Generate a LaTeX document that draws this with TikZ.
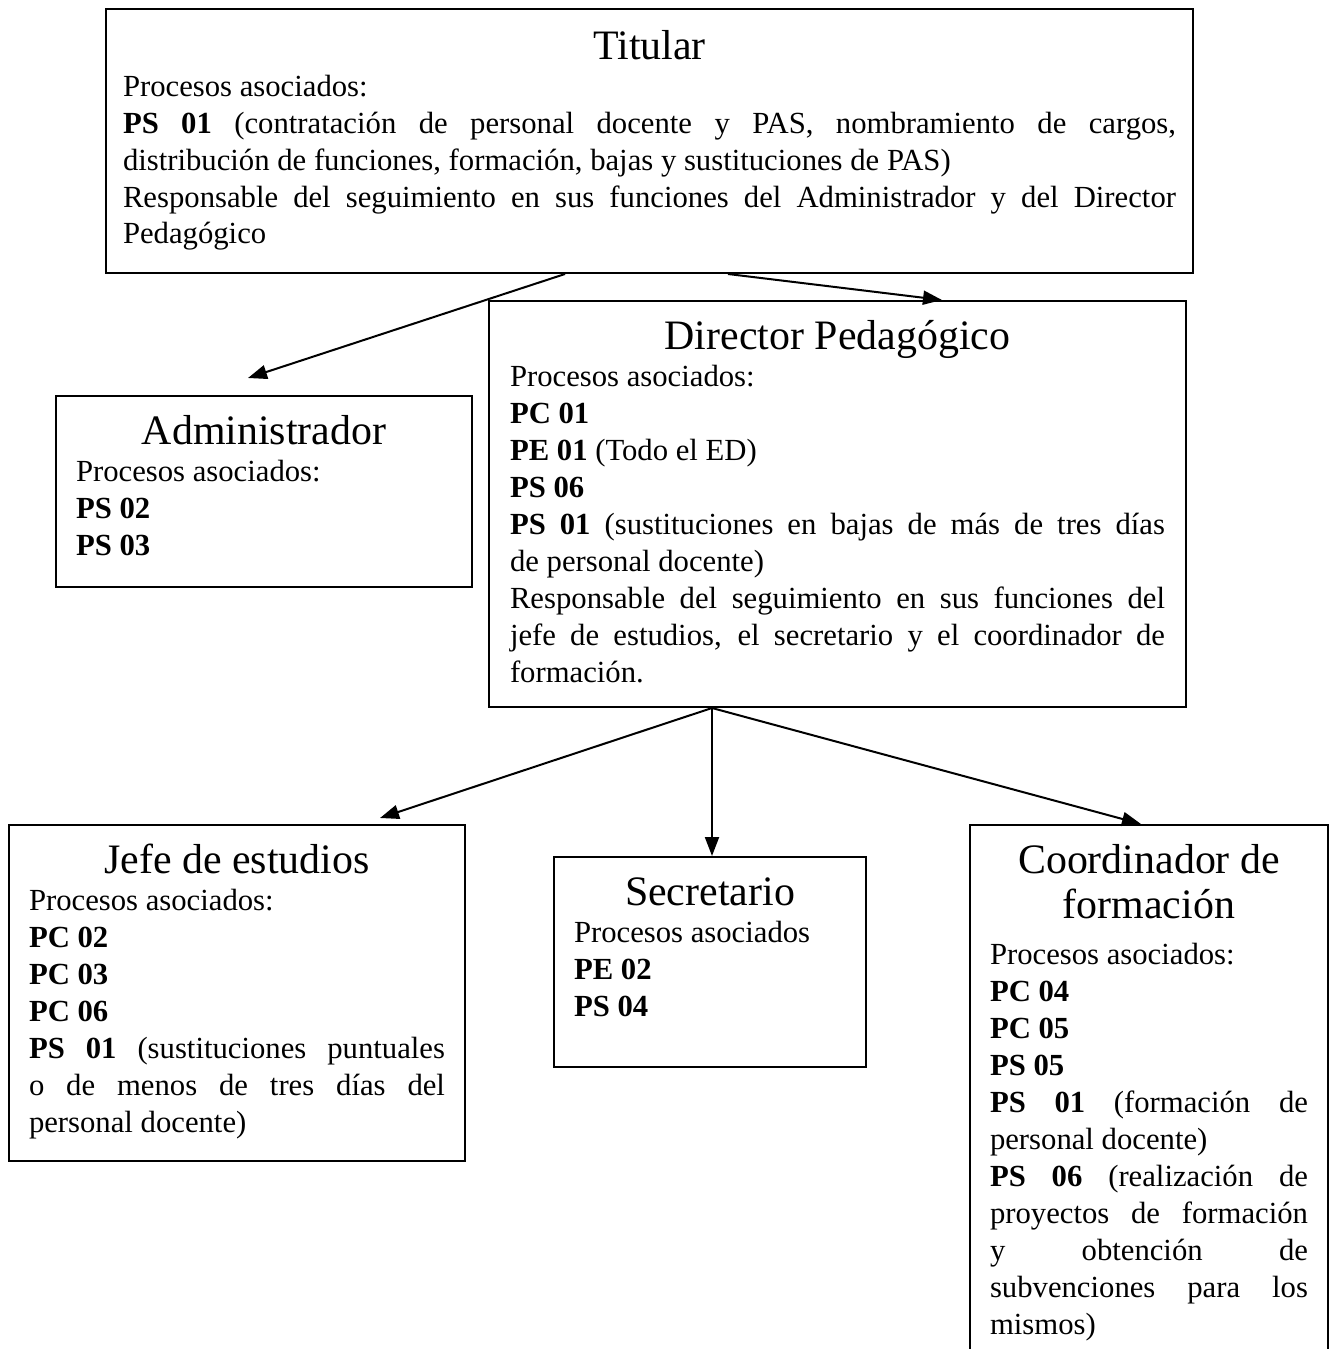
\documentclass[tikz,border=0pt]{standalone}
\usepackage{fontspec}
\setmainfont{Liberation Serif}
\usetikzlibrary{arrows.meta,calc}
\newcommand\bodyf{\fontsize{15.35pt}{18.5pt}\selectfont}
\newcommand\titf{\fontsize{20.95pt}{22.5pt}\selectfont}
\newcommand\jl[1]{\makebox[\linewidth][s]{#1}}
\newcommand\orgtext[3]{\parbox[t]{#1}{\titf\centering #2\par\bodyf\raggedright #3\par}}
\begin{document}
\begin{tikzpicture}[x=0.5pt,y=-0.5pt,
  orgbox/.style={draw, line width=1pt, anchor=north west, inner ysep=0pt, inner xsep=10pt, text height=24pt},
  arr/.style={line width=1pt, -{Triangle[length=9.5pt,width=7pt]}}]
\useasboundingbox (0,0) rectangle (1331,1349);
\clip (0,0) rectangle (1331,1349);

\node[orgbox, inner xsep=8.5pt, text height=25pt, text depth=107pt] (tit) at (105,8)
 {\orgtext{526.5pt}{Titular}{Procesos asociados:\\
  \jl{\textbf{PS 01} (contratación de personal docente y PAS, nombramiento de cargos,}\\
  distribución de funciones, formación, bajas y sustituciones de PAS)\\
  \jl{Responsable del seguimiento en sus funciones del Administrador y del Director}\\
  Pedagógico}};

\node[orgbox, inner xsep=10.5pt, text depth=179pt] (dir) at (488,300)
 {\orgtext{327.5pt}{Director Pedagógico}{Procesos asociados:\\
  \textbf{PC 01}\\
  \textbf{PE 01} (Todo el ED)\\
  \textbf{PS 06}\\
  \jl{\textbf{PS 01} (sustituciones en bajas de más de tres días}\\
  de personal docente)\\
  \jl{Responsable del seguimiento en sus funciones del}\\
  \jl{jefe de estudios, el secretario y el coordinador de}\\
  formación.}};

\node[orgbox, text depth=71.5pt] (adm) at (55,395)
 {\orgtext{188pt}{Administrador}{Procesos asociados:\\
  \textbf{PS 02}\\
  \textbf{PS 03}}};

\node[orgbox, text depth=144pt] (jef) at (8,824)
 {\orgtext{208pt}{Jefe de estudios}{Procesos asociados:\\
  \textbf{PC 02}\\
  \textbf{PC 03}\\
  \textbf{PC 06}\\
  \jl{\textbf{PS 01} (sustituciones puntuales}\\
  \jl{o de menos de tres días del}\\
  personal docente)}};

\node[orgbox, text depth=81pt] (sec) at (553,856)
 {\orgtext{136pt}{Secretario}{Procesos asociados\\
  \textbf{PE 02}\\
  \textbf{PS 04}}};

\node[orgbox, text depth=264pt] (coo) at (969,824)
 {\orgtext{159pt}{Coordinador de\\formación}{\vspace{4.5pt}Procesos asociados:\\
  \textbf{PC 04}\\
  \textbf{PC 05}\\
  \textbf{PS 05}\\
  \jl{\textbf{PS 01} (formación de}\\
  personal docente)\\
  \jl{\textbf{PS 06} (realización de}\\
  \jl{proyectos de formación}\\
  \jl{y obtención de}\\
  \jl{subvenciones para los}\\
  mismos)}};

\coordinate (t1) at ($(tit.south west)+(460,0)$);
\coordinate (t2) at ($(tit.south west)+(623,0)$);
\coordinate (admtip) at ($(adm.north west)+(193,-17)$);
\coordinate (dirtip) at ($(dir.north west)+(454,0)$);
\coordinate (d0) at ($(dir.south west)+(224,0)$);
\coordinate (jeftip) at ($(jef.north west)+(372,-6)$);
\coordinate (sectip) at ($(sec.north west)+(159,0)$);
\coordinate (cootip) at ($(coo.north west)+(172,0)$);

\draw[arr] (t1) -- (admtip);
\draw[arr] (t2) -- (dirtip);
\draw[arr] (d0) -- (jeftip);
\draw[arr] (d0) -- (sectip);
\draw[arr] (d0) -- (cootip);
\end{tikzpicture}
\end{document}
